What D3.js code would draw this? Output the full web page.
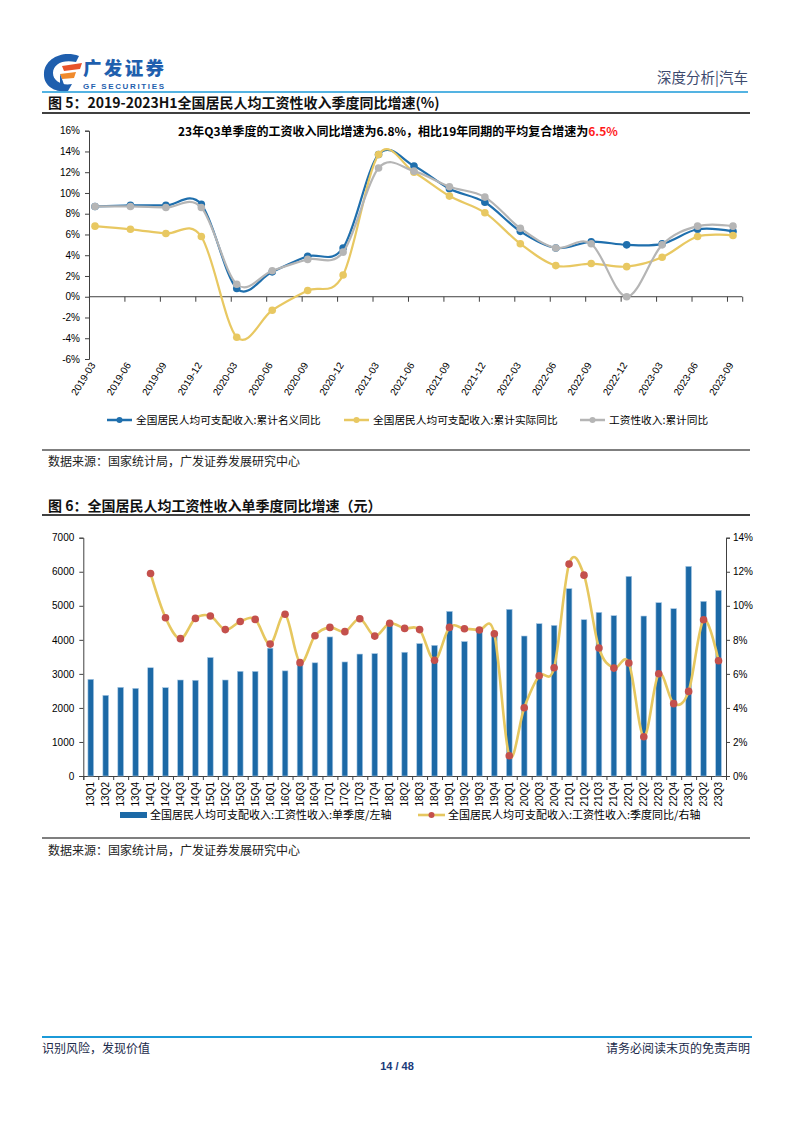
<!DOCTYPE html>
<html><head><meta charset="utf-8">
<script src="https://cdn.jsdelivr.net/npm/d3@7/dist/d3.min.js"></script>
<style>
body{margin:0;background:#fff;}
svg{display:block;}
.cn{font-family:"Noto Sans CJK SC","Noto Sans",sans-serif;}
.ar{font-family:"Liberation Sans",Arial,sans-serif;}
</style></head>
<body>
<svg id="page" width="794" height="1123"></svg>
<script>
// ---------- Chart 1 data ----------
const periods1 = ["2019-03","2019-06","2019-09","2019-12","2020-03","2020-06","2020-09","2020-12","2021-03","2021-06","2021-09","2021-12","2022-03","2022-06","2022-09","2022-12","2023-03","2023-06","2023-09"];
const nominalYoY = [8.7,8.8,8.8,8.9,0.8,2.4,3.9,4.7,13.7,12.6,10.4,9.1,6.3,4.7,5.3,5.0,5.1,6.5,6.3];
const realYoY    = [6.8,6.5,6.1,5.8,-3.9,-1.3,0.6,2.1,13.7,12.0,9.7,8.1,5.1,3.0,3.2,2.9,3.8,5.8,5.9];
const wageYoY    = [8.7,8.7,8.6,8.6,1.2,2.5,3.6,4.3,12.4,12.1,10.6,9.6,6.6,4.7,5.1,0.0,5.0,6.8,6.8];
const y1Ticks = [-6,-4,-2,0,2,4,6,8,10,12,14,16];
const legend1 = ["全国居民人均可支配收入:累计名义同比","全国居民人均可支配收入:累计实际同比","工资性收入:累计同比"];

// ---------- Chart 2 data ----------
const quarters = ["13Q1","13Q2","13Q3","13Q4","14Q1","14Q2","14Q3","14Q4","15Q1","15Q2","15Q3","15Q4","16Q1","16Q2","16Q3","16Q4","17Q1","17Q2","17Q3","17Q4","18Q1","18Q2","18Q3","18Q4","19Q1","19Q2","19Q3","19Q4","20Q1","20Q2","20Q3","20Q4","21Q1","21Q2","21Q3","21Q4","22Q1","22Q2","22Q3","22Q4","23Q1","23Q2","23Q3"];
const wageIncome = [2840,2370,2605,2575,3180,2595,2820,2812,3480,2820,3075,3072,3755,3088,3280,3325,4085,3350,3582,3595,4450,3635,3890,3838,4836,3950,4224,4158,4895,4112,4474,4424,5502,4591,4807,4709,5864,4699,5091,4915,6158,5130,5453];
const wageQoQYoY = [null,null,null,null,11.9,9.3,8.07,9.26,9.4,8.6,9.08,9.2,7.75,9.5,6.66,8.24,8.73,8.48,9.24,8.22,8.97,8.67,8.6,6.8,8.73,8.65,8.58,8.36,1.19,4.01,5.89,6.36,12.45,11.8,7.52,6.34,6.64,2.31,6.01,4.25,4.97,9.18,6.77];
const yLeftTicks = [0,1000,2000,3000,4000,5000,6000,7000];
const yRightTicks = [0,2,4,6,8,10,12,14];
const legend2 = ["全国居民人均可支配收入:工资性收入:单季度/左轴","全国居民人均可支配收入:工资性收入:季度同比/右轴"];

const svg = d3.select("#page");

// ---------- Header ----------
const logo = svg.append("g");
logo.append("path").attr("d","M79,56 C62,50 45,59 44,73 C43,86 55,93 68,91 L72,84 C62,86 53,81 53,73 C53,64 63,59 76,62 Z").attr("fill","#1f5fae");
logo.append("path").attr("d","M62,66 L82,63 L80,69 L64,71 Z").attr("fill","#e8532b");
logo.append("path").attr("d","M60,74 L76,72 L74,78 L62,79 Z").attr("fill","#f08a2c");
logo.append("path").attr("d","M60,74 L62,79 L66,90 L60,89 Z").attr("fill","#1f5fae");
logo.append("text").attr("class","cn").attr("x",83).attr("y",75).attr("font-size",18.5).attr("font-weight",900).attr("fill","#1f5fae").attr("textLength",81).text("广发证券");
logo.append("text").attr("class","ar").attr("x",83).attr("y",89).attr("font-size",8).attr("font-weight",700).attr("fill","#1f5fae").attr("textLength",81).text("GF SECURITIES");
svg.append("text").attr("class","cn").attr("x",748).attr("y",83).attr("text-anchor","end").attr("font-size",14.5).attr("fill","#3d4a6e").text("深度分析|汽车");
svg.append("line").attr("x1",42).attr("x2",748).attr("y1",92).attr("y2",92).attr("stroke","#1b9ad8").attr("stroke-width",1.5);

svg.append("text").attr("class","cn").attr("x",48).attr("y",108).attr("font-size",14).attr("font-weight",700).attr("fill","#111").text("图 5：2019-2023H1全国居民人均工资性收入季度同比增速(%)");
svg.append("line").attr("x1",42).attr("x2",750).attr("y1",113).attr("y2",113).attr("stroke","#000").attr("stroke-width",1.5);

// ---------- Chart 1 ----------
const x1 = d3.scaleLinear().domain([0,18]).range([95,733]);
const y1 = d3.scaleLinear().domain([-6,16]).range([359,130.7]);
const axisCol = "#404040";
const g1 = svg.append("g");
const yAx1 = g1.append("g").attr("transform","translate(89,0)")
  .call(d3.axisLeft(y1).tickValues(y1Ticks).tickSize(4).tickPadding(5).tickFormat(d=>d+"%"));
yAx1.selectAll("text").attr("class","ar").attr("font-size",10).attr("fill","#000");
yAx1.selectAll("line,path").attr("stroke",axisCol);
const xTickIdx = d3.range(19).map(k=>k-0.17);
const xAx1 = g1.append("g").attr("transform",`translate(0,${y1(0)})`)
  .call(d3.axisBottom(x1).tickValues(xTickIdx.concat([18.26])).tickSize(5).tickFormat(""));
xAx1.select("path").attr("stroke",axisCol).attr("d",`M${x1(-0.17)},0H${x1(18.26)}`);
xAx1.selectAll("line").attr("stroke",axisCol);
g1.selectAll("text.xl").data(periods1).enter().append("text").attr("class","ar xl")
  .attr("font-size",10).attr("fill","#000").attr("text-anchor","end")
  .attr("transform",(d,i)=>`translate(${x1(i)+1},${365}) rotate(-58)`).text(d=>d);

const series1 = [
  {vals:nominalYoY,col:"#1f6fad"},
  {vals:realYoY,col:"#e8c862"},
  {vals:wageYoY,col:"#b5b5b5"}
];
const line1 = d3.line().x((d,i)=>x1(i)).y(d=>y1(d)).curve(d3.curveCatmullRom.alpha(0));
series1.forEach(s=>{
  g1.append("path").attr("d",line1(s.vals)).attr("fill","none").attr("stroke",s.col).attr("stroke-width",2.2);
  g1.selectAll(null).data(s.vals).enter().append("circle").attr("cx",(d,i)=>x1(i)).attr("cy",d=>y1(d)).attr("r",3.8).attr("fill",s.col);
});
const ann = g1.append("text").attr("class","cn").attr("x",178).attr("y",136).attr("font-size",12).attr("font-weight",700).attr("fill","#000");
ann.append("tspan").text("23年Q3单季度的工资收入同比增速为6.8%，相比19年同期的平均复合增速为");
ann.append("tspan").attr("fill","#ff1a1a").text("6.5%");

const leg1X = [107,344,580];
legend1.forEach((t,i)=>{
  const lg = g1.append("g");
  lg.append("line").attr("x1",leg1X[i]).attr("x2",leg1X[i]+25).attr("y1",420).attr("y2",420).attr("stroke",series1[i].col).attr("stroke-width",2.5);
  lg.append("circle").attr("cx",leg1X[i]+12.5).attr("cy",420).attr("r",3).attr("fill",series1[i].col);
  lg.append("text").attr("class","cn").attr("x",leg1X[i]+29).attr("y",424).attr("font-size",10.7).attr("fill","#000").text(t);
});
svg.append("line").attr("x1",42).attr("x2",750).attr("y1",450).attr("y2",450).attr("stroke","#000").attr("stroke-width",1.2);
svg.append("text").attr("class","cn").attr("x",48).attr("y",466).attr("font-size",12).attr("fill","#222").text("数据来源：国家统计局，广发证券发展研究中心");

// ---------- Chart 2 ----------
svg.append("text").attr("class","cn").attr("x",48).attr("y",511).attr("font-size",14).attr("font-weight",700).attr("fill","#111").text("图 6：全国居民人均工资性收入单季度同比增速（元）");
svg.append("line").attr("x1",42).attr("x2",750).attr("y1",515).attr("y2",515).attr("stroke","#000").attr("stroke-width",1.5);

const x2 = d3.scaleBand().domain(quarters).range([83.3,726]).paddingInner(0.62).paddingOuter(0.31);
const yL = d3.scaleLinear().domain([0,7000]).range([776,537.7]);
const yR = d3.scaleLinear().domain([0,14]).range([776,537.7]);
const g2 = svg.append("g");
const idx2 = d3.scaleLinear().domain([0,43]).range([83.3,726]);
const xAx2 = g2.append("g").attr("transform","translate(0,776)")
  .call(d3.axisBottom(idx2).tickValues(d3.range(44)).tickSize(4).tickFormat(""));
xAx2.selectAll("line,path").attr("stroke",axisCol);
const yAxL = g2.append("g").attr("transform","translate(83.3,0)")
  .call(d3.axisLeft(yL).tickValues(yLeftTicks).tickSize(4).tickPadding(5).tickFormat(d3.format("d")));
yAxL.selectAll("text").attr("class","ar").attr("font-size",10).attr("fill","#000");
yAxL.selectAll("line,path").attr("stroke",axisCol);
const yAxR = g2.append("g").attr("transform","translate(726,0)")
  .call(d3.axisRight(yR).tickValues(yRightTicks).tickSize(4).tickPadding(3).tickFormat(d=>d+"%"));
yAxR.selectAll("text").attr("class","ar").attr("font-size",10).attr("fill","#000");
yAxR.selectAll("line,path").attr("stroke",axisCol);

g2.selectAll("rect.bar").data(wageIncome).enter().append("rect").attr("class","bar")
  .attr("x",(d,i)=>x2(quarters[i])).attr("width",x2.bandwidth())
  .attr("y",d=>yL(d)).attr("height",d=>776-yL(d))
  .attr("fill","#1c69a6").attr("stroke","#a8c8e4").attr("stroke-width",0.6);

const pts2 = wageQoQYoY.map((v,i)=>({v,i})).filter(d=>d.v!==null);
const line2 = d3.line().x(d=>x2(quarters[d.i])+x2.bandwidth()/2).y(d=>yR(d.v)).curve(d3.curveCatmullRom.alpha(0));
g2.append("path").attr("d",line2(pts2)).attr("fill","none").attr("stroke","#e6c75f").attr("stroke-width",2.6);
g2.selectAll("circle.m").data(pts2).enter().append("circle").attr("class","m")
  .attr("cx",d=>x2(quarters[d.i])+x2.bandwidth()/2).attr("cy",d=>yR(d.v)).attr("r",3.8).attr("fill","#c4504c");

g2.selectAll("text.q").data(quarters).enter().append("text").attr("class","ar q")
  .attr("font-size",10).attr("fill","#000").attr("text-anchor","end")
  .attr("transform",d=>`translate(${x2(d)+x2.bandwidth()/2+3.5},782) rotate(-90)`).text(d=>d);

g2.append("rect").attr("x",120).attr("y",812).attr("width",27).attr("height",6).attr("fill","#1c69a6");
g2.append("text").attr("class","cn").attr("x",150).attr("y",819).attr("font-size",11).attr("fill","#000").text(legend2[0]);
g2.append("line").attr("x1",418).attr("x2",445).attr("y1",815).attr("y2",815).attr("stroke","#e6c75f").attr("stroke-width",2.6);
g2.append("circle").attr("cx",431.5).attr("cy",815).attr("r",3).attr("fill","#c4504c");
g2.append("text").attr("class","cn").attr("x",448).attr("y",819).attr("font-size",11).attr("fill","#000").text(legend2[1]);

svg.append("line").attr("x1",42).attr("x2",750).attr("y1",838).attr("y2",838).attr("stroke","#000").attr("stroke-width",1.2);
svg.append("text").attr("class","cn").attr("x",48).attr("y",855).attr("font-size",12).attr("fill","#222").text("数据来源：国家统计局，广发证券发展研究中心");

// ---------- Footer ----------
svg.append("line").attr("x1",42).attr("x2",752).attr("y1",1037).attr("y2",1037).attr("stroke","#1b9ad8").attr("stroke-width",2);
svg.append("text").attr("class","cn").attr("x",42).attr("y",1053).attr("font-size",12).attr("fill","#1a2a4a").text("识别风险，发现价值");
svg.append("text").attr("class","cn").attr("x",750).attr("y",1053).attr("text-anchor","end").attr("font-size",12).attr("fill","#1a2a4a").text("请务必阅读末页的免责声明");
svg.append("text").attr("class","ar").attr("x",397).attr("y",1070).attr("text-anchor","middle").attr("font-size",11).attr("font-weight",700).attr("fill","#1a3a7a").text("14 / 48");
</script>
</body></html>
